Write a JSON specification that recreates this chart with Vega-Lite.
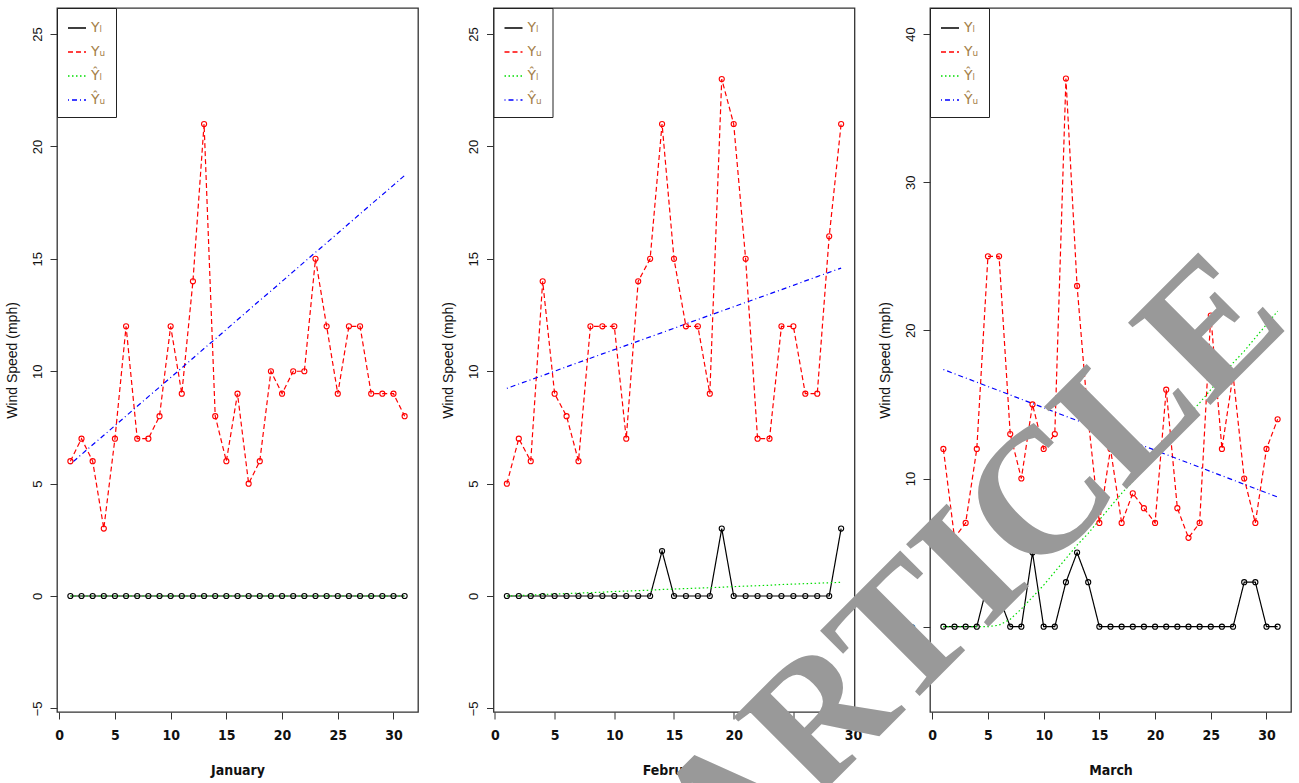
{
  "$schema": "https://vega.github.io/schema/vega-lite/v6.json",
  "padding": {"left": 4, "top": 6, "right": 5, "bottom": 5},
  "background": "white",
  "datasets": {
    "january": [
      {"day": 1, "YL": 0, "YU": 6, "YLhat": 0, "YUhat": 5.87},
      {"day": 2, "YL": 0, "YU": 7, "YLhat": 0, "YUhat": 6.30},
      {"day": 3, "YL": 0, "YU": 6, "YLhat": 0, "YUhat": 6.73},
      {"day": 4, "YL": 0, "YU": 3, "YLhat": 0, "YUhat": 7.15},
      {"day": 5, "YL": 0, "YU": 7, "YLhat": 0, "YUhat": 7.58},
      {"day": 6, "YL": 0, "YU": 12, "YLhat": 0, "YUhat": 8.01},
      {"day": 7, "YL": 0, "YU": 7, "YLhat": 0, "YUhat": 8.44},
      {"day": 8, "YL": 0, "YU": 7, "YLhat": 0, "YUhat": 8.87},
      {"day": 9, "YL": 0, "YU": 8, "YLhat": 0, "YUhat": 9.29},
      {"day": 10, "YL": 0, "YU": 12, "YLhat": 0, "YUhat": 9.72},
      {"day": 11, "YL": 0, "YU": 9, "YLhat": 0, "YUhat": 10.15},
      {"day": 12, "YL": 0, "YU": 14, "YLhat": 0, "YUhat": 10.58},
      {"day": 13, "YL": 0, "YU": 21, "YLhat": 0, "YUhat": 11.01},
      {"day": 14, "YL": 0, "YU": 8, "YLhat": 0, "YUhat": 11.43},
      {"day": 15, "YL": 0, "YU": 6, "YLhat": 0, "YUhat": 11.86},
      {"day": 16, "YL": 0, "YU": 9, "YLhat": 0, "YUhat": 12.29},
      {"day": 17, "YL": 0, "YU": 5, "YLhat": 0, "YUhat": 12.72},
      {"day": 18, "YL": 0, "YU": 6, "YLhat": 0, "YUhat": 13.15},
      {"day": 19, "YL": 0, "YU": 10, "YLhat": 0, "YUhat": 13.57},
      {"day": 20, "YL": 0, "YU": 9, "YLhat": 0, "YUhat": 14.00},
      {"day": 21, "YL": 0, "YU": 10, "YLhat": 0, "YUhat": 14.43},
      {"day": 22, "YL": 0, "YU": 10, "YLhat": 0, "YUhat": 14.86},
      {"day": 23, "YL": 0, "YU": 15, "YLhat": 0, "YUhat": 15.29},
      {"day": 24, "YL": 0, "YU": 12, "YLhat": 0, "YUhat": 15.71},
      {"day": 25, "YL": 0, "YU": 9, "YLhat": 0, "YUhat": 16.14},
      {"day": 26, "YL": 0, "YU": 12, "YLhat": 0, "YUhat": 16.57},
      {"day": 27, "YL": 0, "YU": 12, "YLhat": 0, "YUhat": 17.00},
      {"day": 28, "YL": 0, "YU": 9, "YLhat": 0, "YUhat": 17.43},
      {"day": 29, "YL": 0, "YU": 9, "YLhat": 0, "YUhat": 17.85},
      {"day": 30, "YL": 0, "YU": 9, "YLhat": 0, "YUhat": 18.28},
      {"day": 31, "YL": 0, "YU": 8, "YLhat": 0, "YUhat": 18.71}
    ],
    "february": [
      {"day": 1, "YL": 0, "YU": 5, "YLhat": 0, "YUhat": 9.24},
      {"day": 2, "YL": 0, "YU": 7, "YLhat": 0.02, "YUhat": 9.43},
      {"day": 3, "YL": 0, "YU": 6, "YLhat": 0.04, "YUhat": 9.62},
      {"day": 4, "YL": 0, "YU": 14, "YLhat": 0.07, "YUhat": 9.81},
      {"day": 5, "YL": 0, "YU": 9, "YLhat": 0.09, "YUhat": 10.00},
      {"day": 6, "YL": 0, "YU": 8, "YLhat": 0.11, "YUhat": 10.20},
      {"day": 7, "YL": 0, "YU": 6, "YLhat": 0.13, "YUhat": 10.39},
      {"day": 8, "YL": 0, "YU": 12, "YLhat": 0.15, "YUhat": 10.58},
      {"day": 9, "YL": 0, "YU": 12, "YLhat": 0.17, "YUhat": 10.77},
      {"day": 10, "YL": 0, "YU": 12, "YLhat": 0.20, "YUhat": 10.96},
      {"day": 11, "YL": 0, "YU": 7, "YLhat": 0.22, "YUhat": 11.15},
      {"day": 12, "YL": 0, "YU": 14, "YLhat": 0.24, "YUhat": 11.34},
      {"day": 13, "YL": 0, "YU": 15, "YLhat": 0.26, "YUhat": 11.53},
      {"day": 14, "YL": 2, "YU": 21, "YLhat": 0.29, "YUhat": 11.72},
      {"day": 15, "YL": 0, "YU": 15, "YLhat": 0.31, "YUhat": 11.91},
      {"day": 16, "YL": 0, "YU": 12, "YLhat": 0.33, "YUhat": 12.11},
      {"day": 17, "YL": 0, "YU": 12, "YLhat": 0.35, "YUhat": 12.30},
      {"day": 18, "YL": 0, "YU": 9, "YLhat": 0.37, "YUhat": 12.49},
      {"day": 19, "YL": 3, "YU": 23, "YLhat": 0.39, "YUhat": 12.68},
      {"day": 20, "YL": 0, "YU": 21, "YLhat": 0.42, "YUhat": 12.87},
      {"day": 21, "YL": 0, "YU": 15, "YLhat": 0.44, "YUhat": 13.06},
      {"day": 22, "YL": 0, "YU": 7, "YLhat": 0.46, "YUhat": 13.25},
      {"day": 23, "YL": 0, "YU": 7, "YLhat": 0.48, "YUhat": 13.44},
      {"day": 24, "YL": 0, "YU": 12, "YLhat": 0.51, "YUhat": 13.63},
      {"day": 25, "YL": 0, "YU": 12, "YLhat": 0.53, "YUhat": 13.82},
      {"day": 26, "YL": 0, "YU": 9, "YLhat": 0.55, "YUhat": 14.02},
      {"day": 27, "YL": 0, "YU": 9, "YLhat": 0.57, "YUhat": 14.21},
      {"day": 28, "YL": 0, "YU": 16, "YLhat": 0.59, "YUhat": 14.40},
      {"day": 29, "YL": 3, "YU": 21, "YLhat": 0.61, "YUhat": 14.59}
    ],
    "march": [
      {"day": 1, "YL": 0, "YU": 12, "YLhat": 0, "YUhat": 17.36},
      {"day": 2, "YL": 0, "YU": 6, "YLhat": 0, "YUhat": 17.07},
      {"day": 3, "YL": 0, "YU": 7, "YLhat": 0, "YUhat": 16.79},
      {"day": 4, "YL": 0, "YU": 12, "YLhat": 0, "YUhat": 16.50},
      {"day": 5, "YL": 3, "YU": 25, "YLhat": 0, "YUhat": 16.21},
      {"day": 6, "YL": 2, "YU": 25, "YLhat": 0.1, "YUhat": 15.93},
      {"day": 7, "YL": 0, "YU": 13, "YLhat": 0.5, "YUhat": 15.64},
      {"day": 8, "YL": 0, "YU": 10, "YLhat": 1.2, "YUhat": 15.35},
      {"day": 9, "YL": 5, "YU": 15, "YLhat": 2.0, "YUhat": 15.06},
      {"day": 10, "YL": 0, "YU": 12, "YLhat": 2.8, "YUhat": 14.78},
      {"day": 11, "YL": 0, "YU": 13, "YLhat": 3.7, "YUhat": 14.49},
      {"day": 12, "YL": 3, "YU": 37, "YLhat": 4.6, "YUhat": 14.20},
      {"day": 13, "YL": 5, "YU": 23, "YLhat": 5.5, "YUhat": 13.92},
      {"day": 14, "YL": 3, "YU": 14, "YLhat": 6.3, "YUhat": 13.63},
      {"day": 15, "YL": 0, "YU": 7, "YLhat": 7.2, "YUhat": 13.34},
      {"day": 16, "YL": 0, "YU": 12, "YLhat": 8.1, "YUhat": 13.06},
      {"day": 17, "YL": 0, "YU": 7, "YLhat": 9.0, "YUhat": 12.77},
      {"day": 18, "YL": 0, "YU": 9, "YLhat": 9.8, "YUhat": 12.48},
      {"day": 19, "YL": 0, "YU": 8, "YLhat": 10.7, "YUhat": 12.19},
      {"day": 20, "YL": 0, "YU": 7, "YLhat": 11.6, "YUhat": 11.91},
      {"day": 21, "YL": 0, "YU": 16, "YLhat": 12.5, "YUhat": 11.62},
      {"day": 22, "YL": 0, "YU": 8, "YLhat": 13.4, "YUhat": 11.33},
      {"day": 23, "YL": 0, "YU": 6, "YLhat": 14.3, "YUhat": 11.05},
      {"day": 24, "YL": 0, "YU": 7, "YLhat": 15.1, "YUhat": 10.76},
      {"day": 25, "YL": 0, "YU": 21, "YLhat": 16.0, "YUhat": 10.47},
      {"day": 26, "YL": 0, "YU": 12, "YLhat": 16.9, "YUhat": 10.19},
      {"day": 27, "YL": 0, "YU": 17, "YLhat": 17.8, "YUhat": 9.90},
      {"day": 28, "YL": 3, "YU": 10, "YLhat": 18.6, "YUhat": 9.61},
      {"day": 29, "YL": 3, "YU": 7, "YLhat": 19.5, "YUhat": 9.32},
      {"day": 30, "YL": 0, "YU": 12, "YLhat": 20.4, "YUhat": 9.04},
      {"day": 31, "YL": 0, "YU": 14, "YLhat": 21.3, "YUhat": 8.75}
    ],
    "watermark": [
      {"text": "ARTICLE"}
    ]
  },
  "spacing": 75.5,
  "bounds": "flush",
  "resolve": {
    "scale": {"color": "independent", "strokeDash": "independent", "x": "independent", "y": "independent"},
    "legend": {"color": "independent", "strokeDash": "independent"}
  },
  "hconcat": [
    {
      "width": 361, "height": 704,
      "data": {"name": "january"},
      "transform": [{"fold": ["YL", "YU", "YLhat", "YUhat"], "as": ["series", "value"]}],
      "layer": [
        {
          "mark": {"type": "line", "strokeWidth": 1.2},
          "encoding": {
            "x": {"field": "day", "type": "quantitative", "title": "January", "scale": {"domain": [-0.2, 32.2], "nice": false, "zero": false}, "axis": {"values": [0, 5, 10, 15, 20, 25, 30]}},
            "y": {"field": "value", "type": "quantitative", "title": "Wind Speed (mph)", "scale": {"domain": [-5.16, 26.16], "nice": false, "zero": false}, "axis": {"values": [-5, 0, 5, 10, 15, 20, 25]}},
            "color": {"field": "series", "type": "nominal", "title": null, "scale": {"domain": ["YL", "YU", "YLhat", "YUhat"], "range": ["#000000", "#ff0000", "#00dd00", "#0000ff"]}, "legend": {"labelExpr": "datum.value == 'YL' ? 'Y\u2097' : datum.value == 'YU' ? 'Y\u1d64' : datum.value == 'YLhat' ? '\u0176\u2097' : '\u0176\u1d64'"}},
            "strokeDash": {"field": "series", "type": "nominal", "title": null, "scale": {"domain": ["YL", "YU", "YLhat", "YUhat"], "range": [[1, 0], [5, 3], [1.5, 2.5], [1, 3, 5, 3]]}, "legend": {"labelExpr": "datum.value == 'YL' ? 'Y\u2097' : datum.value == 'YU' ? 'Y\u1d64' : datum.value == 'YLhat' ? '\u0176\u2097' : '\u0176\u1d64'"}}
          }
        },
        {
          "transform": [{"filter": "datum.series == 'YL' || datum.series == 'YU'"}],
          "mark": {"type": "point", "shape": "circle", "filled": false, "size": 26, "strokeWidth": 1.1, "opacity": 1},
          "encoding": {
            "x": {"field": "day", "type": "quantitative"},
            "y": {"field": "value", "type": "quantitative"},
            "color": {"field": "series", "type": "nominal", "title": null, "scale": {"domain": ["YL", "YU", "YLhat", "YUhat"], "range": ["#000000", "#ff0000", "#00dd00", "#0000ff"]}}
          }
        }
      ]
    },
    {
      "width": 361, "height": 704,
      "data": {"name": "february"},
      "transform": [{"fold": ["YL", "YU", "YLhat", "YUhat"], "as": ["series", "value"]}],
      "layer": [
        {
          "mark": {"type": "line", "strokeWidth": 1.2},
          "encoding": {
            "x": {"field": "day", "type": "quantitative", "title": "February", "scale": {"domain": [-0.12, 30.12], "nice": false, "zero": false}, "axis": {"values": [0, 5, 10, 15, 20, 25, 30]}},
            "y": {"field": "value", "type": "quantitative", "title": "Wind Speed (mph)", "scale": {"domain": [-5.16, 26.16], "nice": false, "zero": false}, "axis": {"values": [-5, 0, 5, 10, 15, 20, 25]}},
            "color": {"field": "series", "type": "nominal", "title": null, "scale": {"domain": ["YL", "YU", "YLhat", "YUhat"], "range": ["#000000", "#ff0000", "#00dd00", "#0000ff"]}, "legend": {"labelExpr": "datum.value == 'YL' ? 'Y\u2097' : datum.value == 'YU' ? 'Y\u1d64' : datum.value == 'YLhat' ? '\u0176\u2097' : '\u0176\u1d64'"}},
            "strokeDash": {"field": "series", "type": "nominal", "title": null, "scale": {"domain": ["YL", "YU", "YLhat", "YUhat"], "range": [[1, 0], [5, 3], [1.5, 2.5], [1, 3, 5, 3]]}, "legend": {"labelExpr": "datum.value == 'YL' ? 'Y\u2097' : datum.value == 'YU' ? 'Y\u1d64' : datum.value == 'YLhat' ? '\u0176\u2097' : '\u0176\u1d64'"}}
          }
        },
        {
          "transform": [{"filter": "datum.series == 'YL' || datum.series == 'YU'"}],
          "mark": {"type": "point", "shape": "circle", "filled": false, "size": 26, "strokeWidth": 1.1, "opacity": 1},
          "encoding": {
            "x": {"field": "day", "type": "quantitative"},
            "y": {"field": "value", "type": "quantitative"},
            "color": {"field": "series", "type": "nominal", "title": null, "scale": {"domain": ["YL", "YU", "YLhat", "YUhat"], "range": ["#000000", "#ff0000", "#00dd00", "#0000ff"]}}
          }
        }
      ]
    },
    {
      "width": 361, "height": 704,
      "layer": [
        {
          "data": {"name": "march"},
          "transform": [{"fold": ["YL", "YU", "YLhat", "YUhat"], "as": ["series", "value"]}],
          "mark": {"type": "line", "strokeWidth": 1.2},
          "encoding": {
            "x": {"field": "day", "type": "quantitative", "title": "March", "scale": {"domain": [-0.2, 32.2], "nice": false, "zero": false}, "axis": {"values": [0, 5, 10, 15, 20, 25, 30]}},
            "y": {"field": "value", "type": "quantitative", "title": "Wind Speed (mph)", "scale": {"domain": [-5.76, 41.76], "nice": false, "zero": false}, "axis": {"values": [0, 10, 20, 30, 40]}},
            "color": {"field": "series", "type": "nominal", "title": null, "scale": {"domain": ["YL", "YU", "YLhat", "YUhat"], "range": ["#000000", "#ff0000", "#00dd00", "#0000ff"]}, "legend": {"labelExpr": "datum.value == 'YL' ? 'Y\u2097' : datum.value == 'YU' ? 'Y\u1d64' : datum.value == 'YLhat' ? '\u0176\u2097' : '\u0176\u1d64'"}},
            "strokeDash": {"field": "series", "type": "nominal", "title": null, "scale": {"domain": ["YL", "YU", "YLhat", "YUhat"], "range": [[1, 0], [5, 3], [1.5, 2.5], [1, 3, 5, 3]]}, "legend": {"labelExpr": "datum.value == 'YL' ? 'Y\u2097' : datum.value == 'YU' ? 'Y\u1d64' : datum.value == 'YLhat' ? '\u0176\u2097' : '\u0176\u1d64'"}}
          }
        },
        {
          "data": {"name": "march"},
          "transform": [{"fold": ["YL", "YU", "YLhat", "YUhat"], "as": ["series", "value"]}, {"filter": "datum.series == 'YL' || datum.series == 'YU'"}],
          "mark": {"type": "point", "shape": "circle", "filled": false, "size": 26, "strokeWidth": 1.1, "opacity": 1},
          "encoding": {
            "x": {"field": "day", "type": "quantitative"},
            "y": {"field": "value", "type": "quantitative"},
            "color": {"field": "series", "type": "nominal", "title": null, "scale": {"domain": ["YL", "YU", "YLhat", "YUhat"], "range": ["#000000", "#ff0000", "#00dd00", "#0000ff"]}}
          }
        },
        {
          "data": {"name": "watermark"},
          "mark": {"type": "text", "angle": -45, "font": "Liberation Serif, Times New Roman, serif", "fontWeight": "bold", "fontSize": 178, "color": "#999999", "align": "center", "baseline": "middle"},
          "encoding": {
            "text": {"field": "text"},
            "x": {"datum": 3.4, "type": "quantitative"},
            "y": {"datum": 3.8, "type": "quantitative"}
          }
        }
      ]
    }
  ],
  "config": {
    "view": {"stroke": "#333333", "strokeWidth": 1.3},
    "axis": {"grid": false, "domain": false, "tickColor": "#333333", "tickSize": 7, "tickWidth": 1, "labelColor": "#111111", "titleColor": "#111111"},
    "axisX": {"labelFont": "Liberation Sans Narrow, DejaVu Sans Condensed, sans-serif", "labelFontWeight": "bold", "labelFontSize": 14, "labelPadding": 9, "titleFont": "Liberation Sans Narrow, DejaVu Sans Condensed, sans-serif", "titleFontWeight": "bold", "titleFontSize": 14, "titlePadding": 21},
    "axisY": {"labelAngle": -90, "labelAlign": "center", "labelBaseline": "bottom", "labelFont": "Liberation Sans, Arial, sans-serif", "labelFontSize": 13, "labelPadding": 6, "titleFont": "Liberation Sans, Arial, sans-serif", "titleFontWeight": "normal", "titleFontSize": 14, "titlePadding": 12},
    "legend": {
      "orient": "top-left", "offset": 0, "padding": 10, "strokeColor": "#222222", "fillColor": "white", "cornerRadius": 0,
      "symbolType": "stroke", "symbolSize": 324, "symbolStrokeWidth": 1.5,
      "labelFont": "DejaVu Sans, sans-serif", "labelFontSize": 14, "labelColor": "#a57f4a", "labelOffset": 4, "rowPadding": 7
    }
  }
}
